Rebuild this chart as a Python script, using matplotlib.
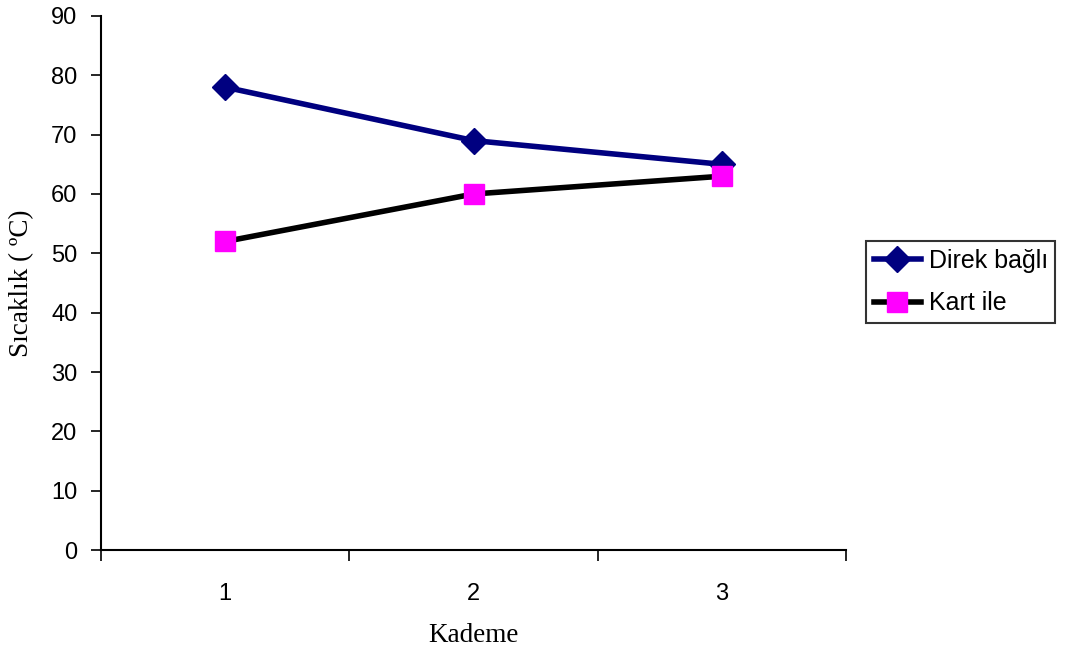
import matplotlib.pyplot as plt
from matplotlib.ticker import FixedLocator, NullFormatter

# Values per stage
kademe = [1, 2, 3]
direk_bagli = [78, 69, 65]
kart_ile = [52, 60, 63]

fig = plt.figure(figsize=(10.67, 6.52), dpi=100)
ax = fig.add_axes([0.0947, 0.1564, 0.6983, 0.8191])

ax.plot(kademe, direk_bagli, color='#000080', lw=4, marker='D', ms=13,
        mfc='#000080', mec='#000080', label='Direk bağlı')
ax.plot(kademe, kart_ile, color='black', lw=4, marker='s', ms=15,
        mfc='#FF00FF', mec='#FF00FF', label='Kart ile')

ax.set_xlim(0.5, 3.5)
ax.set_ylim(0, 90)
ax.set_yticks(range(0, 91, 10))

# category boundaries get the tick marks, labels sit between them
ax.xaxis.set_major_locator(FixedLocator([0.5, 1.5, 2.5, 3.5]))
ax.xaxis.set_major_formatter(NullFormatter())
ax.xaxis.set_minor_locator(FixedLocator(kademe))
ax.set_xticklabels([str(k) for k in kademe], minor=True)
ax.tick_params(axis='x', which='major', length=8, width=1.2, direction='out')
ax.tick_params(axis='x', which='minor', length=0, pad=24)
ax.tick_params(axis='y', length=7, width=1.2, direction='out', pad=10)

for lab in ax.get_xticklabels(minor=True) + ax.get_yticklabels():
    lab.set_fontfamily('Liberation Sans')
    lab.set_fontsize(17)

for side in ['top', 'right']:
    ax.spines[side].set_visible(False)
for side in ['left', 'bottom']:
    ax.spines[side].set_linewidth(1.5)

ax.set_xlabel('Kademe', fontfamily='Liberation Serif', fontsize=19.5, labelpad=13)
ax.set_ylabel('Sıcaklık ( ºC)', fontfamily='Liberation Serif', fontsize=19.5, labelpad=12)

leg = ax.legend(loc='center left', bbox_to_anchor=(1.027, 0.502), frameon=True,
                fancybox=False, edgecolor='black', handlelength=1.9,
                prop={'family': 'Liberation Sans', 'size': 18},
                borderpad=0.3, labelspacing=0.75, handletextpad=0.3,
                borderaxespad=0)
leg.get_frame().set_linewidth(1.5)

fig.savefig('out.png', dpi=100)
